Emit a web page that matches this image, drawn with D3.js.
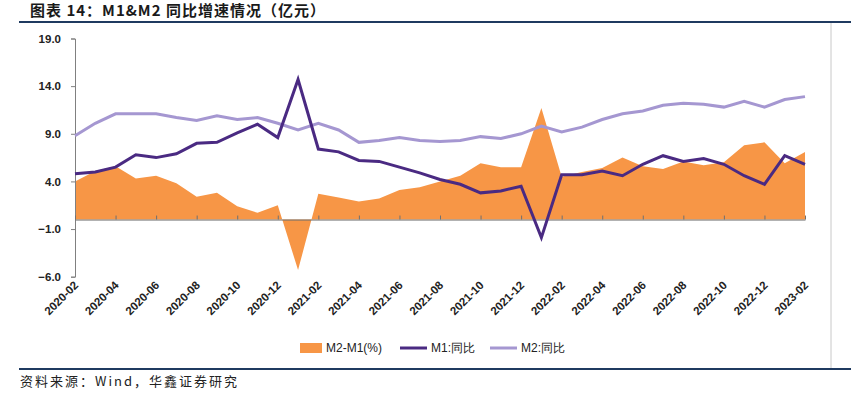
<!DOCTYPE html>
<html>
<head>
<meta charset="utf-8">
<script src="https://cdn.jsdelivr.net/npm/d3@7"></script>
<style>
  body { margin: 0; background: #fff; }
  svg { display: block; }
</style>
</head>
<body>
<div id="chart"></div>
<script>
// mois (2020-02 -> 2023-02)
const months = [
  "2020-02","2020-03","2020-04","2020-05","2020-06","2020-07","2020-08","2020-09","2020-10","2020-11","2020-12",
  "2021-01","2021-02","2021-03","2021-04","2021-05","2021-06","2021-07","2021-08","2021-09","2021-10","2021-11","2021-12",
  "2022-01","2022-02","2022-03","2022-04","2022-05","2022-06","2022-07","2022-08","2022-09","2022-10","2022-11","2022-12",
  "2023-01","2023-02"
]
// M2-M1 (%)
const spread = [
  4.0, 5.1, 5.6, 4.3, 4.6, 3.8, 2.4, 2.8, 1.4, 0.7, 1.5,
  -5.3, 2.7, 2.3, 1.9, 2.2, 3.1, 3.4, 4.0, 4.6, 5.9, 5.5, 5.5,
  11.7, 4.5, 5.0, 5.4, 6.5, 5.6, 5.3, 6.1, 5.7, 6.0, 7.8, 8.1,
  5.9, 7.1
]
// M1 同比
const m1 = [
  4.8, 5.0, 5.5, 6.8, 6.5, 6.9, 8.0, 8.1, 9.1, 10.0, 8.6,
  14.7, 7.4, 7.1, 6.2, 6.1, 5.5, 4.9, 4.2, 3.7, 2.8, 3.0, 3.5,
  -1.9, 4.7, 4.7, 5.1, 4.6, 5.8, 6.7, 6.1, 6.4, 5.8, 4.6, 3.7,
  6.7, 5.8
]
// M2 同比
const m2 = [
  8.8, 10.1, 11.1, 11.1, 11.1, 10.7, 10.4, 10.9, 10.5, 10.7, 10.1,
  9.4, 10.1, 9.4, 8.1, 8.3, 8.6, 8.3, 8.2, 8.3, 8.7, 8.5, 9.0,
  9.8, 9.2, 9.7, 10.5, 11.1, 11.4, 12.0, 12.2, 12.1, 11.8, 12.4, 11.8,
  12.6, 12.9
]
const yTicks = [-6, -1, 4, 9, 14, 19]

const W = 851, H = 393
const svg = d3.select("#chart").append("svg")
  .attr("width", W).attr("height", H)

//------------------------------------------------------------------------------
// titre + séparateurs
svg.append("text")
  .attr("x", 30).attr("y", 16)
  .style("font-family", "'Noto Sans CJK SC', sans-serif")
  .style("font-weight", "bold").style("font-size", "15px")
  .style("letter-spacing", "1px")
  .style("fill", "#1a1a1a")
  .text("图表 14：M1&M2 同比增速情况（亿元）")

svg.append("line").attr("x1", 19).attr("x2", W).attr("y1", 22).attr("y2", 22)
  .attr("stroke", "#1f3a60").attr("stroke-width", 2)
svg.append("line").attr("x1", 19).attr("x2", W).attr("y1", 369).attr("y2", 369)
  .attr("stroke", "#1f3a60").attr("stroke-width", 2)
svg.append("line").attr("x1", 831).attr("x2", 831).attr("y1", 23).attr("y2", 368)
  .attr("stroke", "#c8c8c8").attr("stroke-width", 1)

svg.append("text")
  .attr("x", 20).attr("y", 386)
  .style("font-family", "'Noto Sans CJK SC', sans-serif")
  .style("font-size", "13px").style("letter-spacing", "2px").style("fill", "#222")
  .text("资料来源：Wind，华鑫证券研究")

//------------------------------------------------------------------------------
// échelles
const x = d3.scalePoint().domain(months).range([75, 805])
const y = d3.scaleLinear().domain([-6, 19]).range([276.7, 38.5])

// aire M2-M1
const area = d3.area()
  .x((d, i) => x(months[i]))
  .y0(y(0))
  .y1(d => y(d))
svg.append("path")
  .datum(spread)
  .attr("d", area)
  .attr("fill", "#f79646")

// axe Y
const yAxis = svg.append("g")
  .attr("transform", "translate(75,0)")
  .call(d3.axisLeft(y).tickValues(yTicks).tickSize(4).tickPadding(10).tickFormat(d3.format(".1f")))
yAxis.select(".domain").attr("stroke", "#808080")
yAxis.selectAll(".tick line").attr("stroke", "#808080")
yAxis.selectAll("text")
  .style("font-family", "'Liberation Sans', Arial, sans-serif")
  .style("font-weight", "bold").style("font-size", "11.5px").style("fill", "#222")

// axe X (ligne du zéro)
const xAxis = svg.append("g")
  .attr("transform", "translate(0," + y(0) + ")")
  .call(d3.axisBottom(x)
    .tickValues(months.filter((m, i) => i % 2 === 0))
    .tickSizeInner(-4).tickSizeOuter(0).tickFormat(""))
xAxis.select(".domain").attr("stroke", "#707070")
xAxis.selectAll(".tick line").attr("stroke", "#707070")

// étiquettes X en bas, tournées
svg.append("g")
  .selectAll("text")
  .data(months.filter((m, i) => i % 2 === 0))
  .join("text")
  .attr("transform", d => "translate(" + (x(d) + 4) + ",286) rotate(-45)")
  .attr("text-anchor", "end")
  .style("font-family", "'Liberation Sans', Arial, sans-serif")
  .style("font-weight", "bold").style("font-size", "11.5px").style("fill", "#222")
  .text(d => d)

// courbes
const line = d3.line()
  .x((d, i) => x(months[i]))
  .y(d => y(d))
svg.append("path").datum(m2).attr("d", line)
  .attr("fill", "none").attr("stroke", "#a597d1").attr("stroke-width", 3)
svg.append("path").datum(m1).attr("d", line)
  .attr("fill", "none").attr("stroke", "#4a2a82").attr("stroke-width", 3)

//------------------------------------------------------------------------------
// légende
const leg = svg.append("g").style("font-family", "'Liberation Sans Narrow', 'Liberation Sans', sans-serif")
  .style("font-size", "12px").style("fill", "#222")
leg.append("rect").attr("x", 300).attr("y", 343).attr("width", 22).attr("height", 10).attr("fill", "#f79646")
leg.append("text").attr("x", 326).attr("y", 352).text("M2-M1(%)")
leg.append("line").attr("x1", 400).attr("x2", 427).attr("y1", 348).attr("y2", 348)
  .attr("stroke", "#4a2a82").attr("stroke-width", 3)
leg.append("text").attr("x", 431).attr("y", 352).text("M1:同比")
leg.append("line").attr("x1", 490).attr("x2", 517).attr("y1", 348).attr("y2", 348)
  .attr("stroke", "#a597d1").attr("stroke-width", 3)
leg.append("text").attr("x", 521).attr("y", 352).text("M2:同比")
</script>
</body>
</html>
